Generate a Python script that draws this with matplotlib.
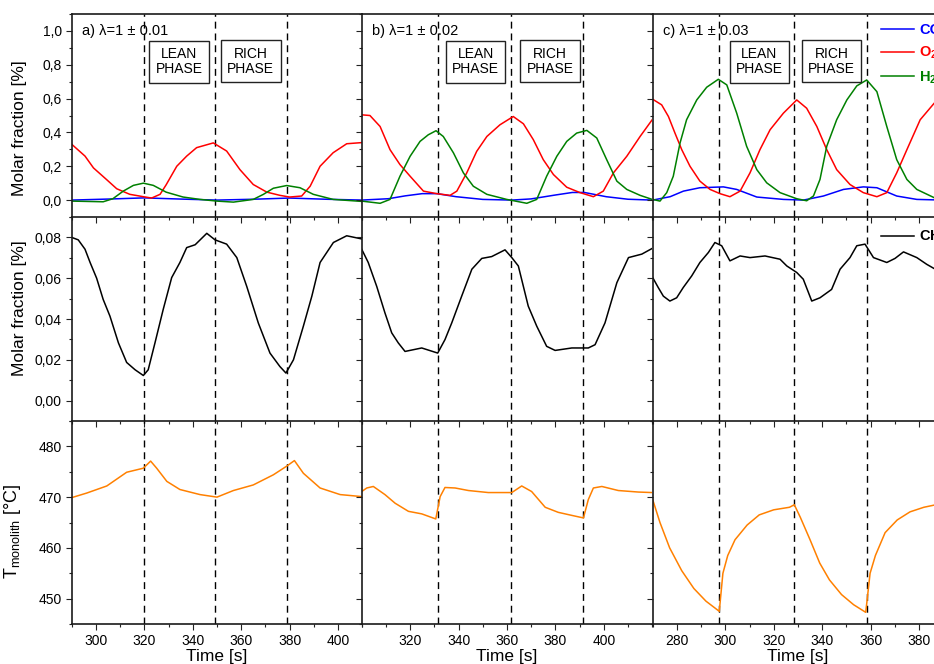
import numpy as np
import matplotlib
matplotlib.use("Agg")
import matplotlib.pyplot as plt
from matplotlib.ticker import MultipleLocator, FixedLocator, FuncFormatter
from matplotlib.transforms import blended_transform_factory

plt.rcParams['font.family'] = ['Liberation Sans', 'DejaVu Sans']
plt.rcParams['mathtext.fontset'] = 'custom'
plt.rcParams['mathtext.rm'] = 'Liberation Sans'
plt.rcParams['mathtext.it'] = 'Liberation Sans:italic'
plt.rcParams['mathtext.bf'] = 'Liberation Sans:bold'

# ---- a) lambda = 1 +/- 0.01 ----
t_a_o2 = [290, 295.5, 299, 304.5, 308.6, 314, 319.6, 323, 326.5, 329, 333.4, 337.5, 341.6,
          348.5, 354, 359.5, 365, 370.6, 376, 380, 385, 388.5, 392.6, 398, 403.6, 410]
o2_a = [0.33, 0.26, 0.19, 0.12, 0.067, 0.034, 0.02, 0.012, 0.034, 0.09, 0.2, 0.26, 0.31,
        0.338, 0.29, 0.18, 0.092, 0.047, 0.028, 0.018, 0.024, 0.082, 0.2, 0.28, 0.333, 0.34]
t_a_h2 = [290, 303, 307, 311.3, 315.5, 319.6, 323.7, 329, 336, 343, 350, 356.8, 365, 369.2,
          373.3, 378.8, 384.3, 389.8, 398, 410]
h2_a = [-0.006, -0.01, 0.008, 0.053, 0.087, 0.1, 0.087, 0.047, 0.018, 0.004, -0.006, -0.012,
        0.004, 0.034, 0.07, 0.086, 0.073, 0.034, 0.004, -0.008]
t_a_co = [290, 305, 320, 335, 350, 365, 380, 395, 410]
co_a = [0.0, 0.006, 0.013, 0.006, 0.0, 0.005, 0.012, 0.005, 0.0]
t_a_ch4 = [290, 292.7, 295.5, 297.6, 300.3, 303, 305.8, 309.3, 312.7, 316.2, 319.6, 321.6,
           324.4, 327.8, 331.3, 334.7, 337.5, 341, 345.8, 349.2, 354, 358.2, 362.3, 367.1,
           371.9, 376, 378.5, 381.6, 385.7, 389.2, 392.6, 398.1, 403.6, 410]
ch4_a = [0.080, 0.0788, 0.0742, 0.0677, 0.060, 0.0496, 0.0414, 0.0283, 0.0187, 0.0151,
         0.0123, 0.0151, 0.0283, 0.0447, 0.0603, 0.0677, 0.075, 0.0764, 0.082, 0.0788,
         0.0767, 0.0701, 0.056, 0.038, 0.0233, 0.0167, 0.0135, 0.020, 0.0365, 0.0512,
         0.0677, 0.0775, 0.0808, 0.0792]
t_a_T = [290, 296.2, 304.5, 312.7, 319.6, 322.6, 325.1, 329.3, 334.7, 343, 350, 356.8, 365,
         373.3, 378.8, 382, 385.7, 392.6, 400.9, 410]
T_a = [469.9, 470.8, 472.2, 474.9, 475.7, 477.1, 475.7, 473.1, 471.5, 470.5, 470.0, 471.3,
       472.4, 474.4, 476.1, 477.2, 474.7, 471.8, 470.5, 470.1]

# ---- b) lambda = 1 +/- 0.02 ----
t_b_o2 = [300, 303.4, 307.6, 311.7, 315.8, 320, 325.5, 331, 336.5, 339.3, 343.4, 347.5,
          351.7, 357.1, 362.6, 366.8, 370.9, 375, 379.2, 384.7, 390.2, 395.7, 399.8, 404,
          409.5, 415, 420]
o2_b = [0.504, 0.50, 0.435, 0.298, 0.21, 0.141, 0.053, 0.038, 0.028, 0.053, 0.161, 0.288,
        0.376, 0.445, 0.494, 0.451, 0.357, 0.239, 0.151, 0.076, 0.044, 0.02, 0.053, 0.161,
        0.259, 0.376, 0.475]
t_b_h2 = [300, 307.6, 311.7, 315.8, 320, 324.1, 327.5, 330.7, 333.7, 337.9, 342, 346.1,
          351.7, 359.9, 368.2, 372.3, 376.4, 380.6, 384.7, 388.8, 393, 397.1, 401.2, 405.4,
          409.5, 415, 420]
h2_b = [-0.006, -0.019, 0.004, 0.141, 0.259, 0.347, 0.386, 0.41, 0.376, 0.279, 0.161, 0.082,
        0.034, 0.004, -0.019, 0.004, 0.141, 0.259, 0.347, 0.396, 0.412, 0.367, 0.239, 0.112,
        0.063, 0.028, 0.004]
t_b_co = [300, 311, 318, 325, 331, 339, 350, 362, 370, 380, 387, 392, 401, 410, 420]
co_b = [0.0, 0.008, 0.025, 0.038, 0.038, 0.02, 0.004, 0.0, 0.007, 0.03, 0.045, 0.045, 0.02,
        0.005, 0.0]
t_b_ch4 = [300, 302.7, 306.2, 309.6, 312.4, 315.1, 317.9, 324.8, 331.4, 334.4, 337.2, 341.3,
           345.5, 349.6, 353.7, 359.2, 362, 364.7, 368.8, 372.3, 376.4, 379.9, 386.8, 393.6,
           396.4, 400.5, 405.4, 410.2, 415.7, 420]
ch4_b = [0.0742, 0.0677, 0.056, 0.043, 0.0332, 0.0283, 0.0241, 0.0258, 0.0233, 0.0299,
         0.0381, 0.0512, 0.0644, 0.0697, 0.0706, 0.0739, 0.0701, 0.066, 0.0463, 0.0365,
         0.0266, 0.0246, 0.0258, 0.0258, 0.0274, 0.0381, 0.0578, 0.0701, 0.0718, 0.0746]
t_b_T = [300, 302.1, 304.8, 309.6, 313.8, 319.3, 324.8, 330.6, 332.4, 334.4, 338.6, 344.1,
         352.3, 362, 366.1, 370.2, 375.8, 381.2, 386.8, 391.6, 393.6, 395.7, 399.2, 406,
         414.3, 420]
T_b = [471.1, 471.8, 472.1, 470.5, 468.8, 467.2, 466.7, 465.7, 470.1, 471.9, 471.8, 471.3,
       470.9, 470.9, 472.2, 471.1, 468.0, 467.0, 466.4, 465.9, 469.5, 471.8, 472.1, 471.3,
       471.0, 470.9]

# ---- c) lambda = 1 +/- 0.03 ----
t_c_o2 = [270, 273.7, 276.5, 279.2, 282, 285.4, 289.5, 293.7, 297.8, 301.9, 306.1, 310.2,
          314.3, 318.5, 324, 329.5, 333.6, 337.8, 341.9, 346, 351.5, 357, 362.6, 366.7,
          370.8, 375, 380.5, 386.3, 390]
o2_c = [0.596, 0.563, 0.494, 0.396, 0.298, 0.2, 0.112, 0.063, 0.038, 0.02, 0.053, 0.161,
        0.298, 0.416, 0.514, 0.592, 0.543, 0.435, 0.298, 0.18, 0.092, 0.044, 0.02, 0.044,
        0.161, 0.298, 0.475, 0.573, 0.6]
t_c_h2 = [270, 273, 275.8, 278.5, 281.3, 284, 288.2, 292.3, 297.1, 300.6, 304.7, 308.8, 313,
          317.1, 322.6, 329.5, 333.6, 336.4, 339.1, 341.9, 346, 350.2, 354.3, 358.4, 362.6,
          366.7, 370.8, 375, 379.1, 386.3, 390]
h2_c = [0.004, -0.006, 0.044, 0.141, 0.338, 0.475, 0.592, 0.667, 0.714, 0.681, 0.514, 0.318,
        0.18, 0.102, 0.044, 0.008, -0.004, 0.024, 0.122, 0.318, 0.475, 0.592, 0.675, 0.71,
        0.641, 0.435, 0.239, 0.122, 0.063, 0.014, 0.008]
t_c_co = [270, 277.2, 282.7, 289.5, 299.2, 304.7, 313, 324, 332.3, 340.5, 348.8, 357, 362.6,
          370.8, 379.1, 390]
co_c = [0.0, 0.02, 0.053, 0.073, 0.078, 0.063, 0.018, 0.004, 0.0, 0.024, 0.063, 0.078,
        0.073, 0.024, 0.004, 0.0]
t_c_ch4 = [270, 272.3, 274.4, 277.1, 279.9, 282.6, 286.1, 289.5, 293, 295.7, 298.5, 301.9,
           306.1, 310.2, 316.4, 322.6, 325.4, 329.5, 332.2, 335.7, 339.1, 343.9, 347.4,
           351.5, 354.3, 357.7, 361.2, 366.7, 370.1, 373.6, 379.1, 383.2, 386.3, 390]
ch4_c = [0.0603, 0.0554, 0.0512, 0.0488, 0.0504, 0.0554, 0.0611, 0.0677, 0.0726, 0.0775,
         0.0759, 0.0685, 0.0709, 0.0701, 0.0709, 0.0693, 0.066, 0.0628, 0.0595, 0.0488,
         0.0504, 0.0545, 0.0644, 0.0701, 0.0759, 0.0767, 0.0701, 0.0677, 0.0697, 0.0729,
         0.0701, 0.0668, 0.0647, 0.064]
t_c_T = [270, 273, 277, 282, 287, 292, 297.5, 299, 301, 304, 309, 314, 320, 326.5, 328.5,
         331, 335, 339, 343, 348, 353, 358, 359.8, 362, 366, 371, 376.3, 382, 390]
T_c = [469.5, 465.0, 460.0, 455.5, 452.0, 449.5, 447.5, 455.0, 458.5, 461.6, 464.5, 466.5,
       467.5, 468.0, 468.5, 466.0, 461.6, 457.0, 453.7, 450.8, 448.8, 447.3, 455.0, 458.5,
       463.0, 465.5, 467.1, 468.0, 468.8]

panel_labels = ['a) λ=1 ± 0.01', 'b) λ=1 ± 0.02', 'c) λ=1 ± 0.03']
xlims = [(290, 410), (300, 420), (270, 390)]
xticks = [[300, 320, 340, 360, 380, 400], [320, 340, 360, 380, 400], [280, 300, 320, 340, 360, 380]]
switch_times = [[320, 349.3, 379], [331.5, 361.6, 391.3], [297.5, 328.5, 358.5]]
lean_x = [334.3, 347.1, 314.1]
rich_x = [364.0, 377.8, 343.8]

top = {'a': (t_a_co, co_a, t_a_o2, o2_a, t_a_h2, h2_a),
       'b': (t_b_co, co_b, t_b_o2, o2_b, t_b_h2, h2_b),
       'c': (t_c_co, co_c, t_c_o2, o2_c, t_c_h2, h2_c)}
mid = {'a': (t_a_ch4, ch4_a), 'b': (t_b_ch4, ch4_b), 'c': (t_c_ch4, ch4_c)}
bot = {'a': (t_a_T, T_a), 'b': (t_b_T, T_b), 'c': (t_c_T, T_c)}

W, H = 934, 664
fig = plt.figure(figsize=(W / 100, H / 100), dpi=100)

col_left = [71.7, 361.7, 652.7]
col_w = 290.5
row_edges = [(14, 217), (217, 421), (421, 624)]

comma = lambda nd: FuncFormatter(lambda v, p: f"{v:.{nd}f}".replace('.', ','))

axes = {}
for j, key in enumerate('abc'):
    for i, (y0, y1) in enumerate(row_edges):
        ax = fig.add_axes([col_left[j] / W, 1 - y1 / H, col_w / W, (y1 - y0) / H])
        axes[(i, j)] = ax
        # transparent background so neighbouring spines and ticks stay visible
        ax.patch.set_visible(False)
        ax.set_xlim(*xlims[j])
        ax.xaxis.set_major_locator(FixedLocator(xticks[j]))
        ax.xaxis.set_minor_locator(MultipleLocator(10))
        for s in ax.spines.values():
            s.set_linewidth(1.2)
            s.set_color('#1a1a1a')
        # shared borders are drawn once, by the neighbouring panel
        if j < 2:
            ax.spines['right'].set_visible(False)
        if i > 0:
            ax.spines['top'].set_visible(False)
        ax.tick_params(which='both', direction='out', top=False, right=False,
                       labelsize=10, color='#222222', width=0.8)
        ax.tick_params(which='major', length=4, pad=3)
        ax.tick_params(which='minor', length=2.5)
        for ts in switch_times[j]:
            ax.axvline(ts, color='black', lw=1.0, ls=(0, (5, 3.5)), zorder=1)
        if i < 2:
            ax.tick_params(labelbottom=False)
        else:
            ax.set_xlabel('Time [s]', fontsize=12.5, labelpad=1)
        if j > 0:
            ax.tick_params(labelleft=False)

    # gases
    t_co, co, t_o2, o2, t_h2, h2 = top[key]
    ax = axes[(0, j)]
    l_co, = ax.plot(t_co, co, color='#0000ff', lw=1.1, label='CO')
    l_o2, = ax.plot(t_o2, o2, color='#ff0000', lw=1.1, label='$\\mathbf{O_2}$')
    l_h2, = ax.plot(t_h2, h2, color='#008000', lw=1.1, label='$\\mathbf{H_2}$')
    ax.set_ylim(-0.1, 1.1)
    ax.yaxis.set_major_locator(MultipleLocator(0.2))
    ax.yaxis.set_minor_locator(MultipleLocator(0.1))
    ax.yaxis.set_major_formatter(comma(1))
    ax.text(0.035, 0.916, panel_labels[j], transform=ax.transAxes, fontsize=10.5,
            ha='left', va='center')
    tr = blended_transform_factory(ax.transData, ax.transAxes)
    box = dict(boxstyle='square,pad=0.45', fc='white', ec='#222222', lw=1.0)
    ax.text(lean_x[j], 0.764, 'LEAN\nPHASE', transform=tr, ha='center', va='center',
            fontsize=10, linespacing=1.1, bbox=box, zorder=3)
    ax.text(rich_x[j], 0.768, 'RICH\nPHASE', transform=tr, ha='center', va='center',
            fontsize=10, linespacing=1.1, bbox=box, zorder=3)
    if key == 'c':
        ax.legend(handles=[l_co, l_o2, l_h2], loc='upper left', bbox_to_anchor=(0.755, 1.0),
                  frameon=False, labelcolor='linecolor', prop={'weight': 'bold', 'size': 10.5},
                  handlelength=2.3, handletextpad=0.35, labelspacing=0.55, borderaxespad=0.2)

    # methane
    ax = axes[(1, j)]
    l_ch4, = ax.plot(*mid[key], color='black', lw=1.1, label='$\\mathbf{CH_4}$')
    ax.set_ylim(-0.01, 0.09)
    ax.yaxis.set_major_locator(MultipleLocator(0.02))
    ax.yaxis.set_minor_locator(MultipleLocator(0.01))
    ax.yaxis.set_major_formatter(comma(2))
    if key == 'c':
        ax.legend(handles=[l_ch4], loc='upper left', bbox_to_anchor=(0.755, 0.985),
                  frameon=False, prop={'weight': 'bold', 'size': 10.5},
                  handlelength=2.3, handletextpad=0.35, borderaxespad=0.2)

    # monolith temperature
    ax = axes[(2, j)]
    ax.plot(*bot[key], color='#ff8000', lw=1.1)
    ax.set_ylim(445, 485)
    ax.yaxis.set_major_locator(MultipleLocator(10))
    ax.yaxis.set_minor_locator(MultipleLocator(5))

for i, (lab, yc) in enumerate([('Molar fraction [%]', 0.438), ('Molar fraction [%]', 0.554)]):
    ax = axes[(i, 0)]
    ax.set_ylabel(lab, fontsize=12.5)
    ax.yaxis.set_label_coords(-0.154, yc)
ax = axes[(2, 0)]
ax.set_ylabel('T$_{\\mathrm{monolith}}$ [°C]', fontsize=13)
ax.yaxis.set_label_coords(-0.168, 0.458)

fig.savefig('out.png', dpi=100)
